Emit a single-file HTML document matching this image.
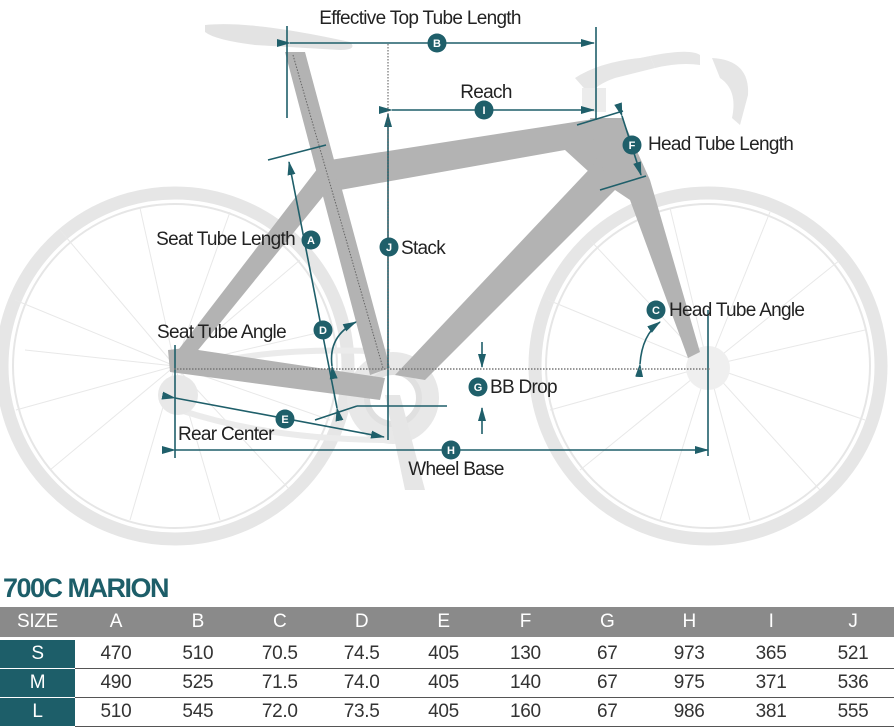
<!DOCTYPE html>
<html><head><meta charset="utf-8"><style>
body{margin:0;background:#fff;width:894px;height:725px;overflow:hidden;font-family:"Liberation Sans",Arial,sans-serif}
svg{position:absolute;left:0;top:0}
.t{font-size:19px;fill:#222;letter-spacing:-0.7px}
.c{fill:#1f5f6a}
.ct{font-size:11px;fill:#fff;font-weight:bold;text-anchor:middle}
.tl{stroke:#1f5f6a;stroke-width:1.6;fill:none}
table{position:absolute;left:0;top:607px;border-collapse:collapse;width:894px;font-size:19px;color:#333;table-layout:fixed}
td{text-align:center;padding:0;height:28px;border-bottom:1.5px solid #555;letter-spacing:-0.3px}
tr.h td{background:#8a8a8a;color:#fff;height:30px;border-bottom:3px solid #fff}
td.s{background:#1d5e69;color:#fff;border-bottom:1.5px solid #fff}
tr.h td.s{background:#8a8a8a}
h1{position:absolute;left:3px;top:573px;margin:0;font-size:27px;color:#1d5e69;letter-spacing:-1.5px;font-weight:bold}
</style></head><body>
<svg width="894" height="600" viewBox="0 0 894 600">
<defs><marker id="a" markerUnits="userSpaceOnUse" markerWidth="14" markerHeight="8" refX="13" refY="4" orient="auto"><path d="M0,0L14,4L0,8z" fill="#1f5f6a"/></marker></defs>
<!-- wheels -->
<g fill="none" stroke="#e6e6e6">
<circle cx="175" cy="366" r="173" stroke-width="13"/>
<circle cx="175" cy="366" r="162" stroke-width="2"/>
<circle cx="708" cy="366" r="173" stroke-width="13"/>
<circle cx="708" cy="366" r="162" stroke-width="2"/>
</g>
<g stroke="#e8e8e8" stroke-width="1">
<path d="M175,366L15,300M175,366L60,230M175,366L140,208M175,366L230,212M175,366L300,260M175,366L330,330M175,366L330,420M175,366L290,490M175,366L220,520M175,366L130,520M175,366L50,470M175,366L16,410M175,366L25,350"/>
<path d="M708,366L548,300M708,366L590,240M708,366L670,208M708,366L770,212M708,366L840,260M708,366L865,330M708,366L865,420M708,366L820,490M708,366L750,520M708,366L660,520M708,366L580,470M708,366L550,410"/>
</g>
<!-- chainring, crank -->
<circle cx="393" cy="398" r="46" fill="#e8e8e8"/>
<circle cx="393" cy="398" r="26" fill="#fff" stroke="#e0e0e0" stroke-width="6"/>
<path d="M385,395L405,490L425,490L400,395z" fill="#e6e6e6"/>
<path d="M180,372Q260,345 390,352" stroke="#ebebeb" stroke-width="6" fill="none"/>
<path d="M180,410Q270,440 390,440" stroke="#ebebeb" stroke-width="6" fill="none"/>
<circle cx="178" cy="395" r="20" fill="#e8e8e8"/>
<circle cx="708" cy="368" r="22" fill="#efefef"/>
<!-- saddle & bars -->
<path d="M205,25Q250,20 350,42Q358,50 340,50L255,45Q215,40 205,32z" fill="#e3e3e3"/>
<path d="M575,78Q600,62 640,58L650,56L655,68L615,78Q595,85 590,95z" fill="#e6e6e6"/>
<path d="M650,56Q690,48 700,55L700,65Q680,62 655,68z" fill="#e6e6e6"/>
<path d="M712,58Q750,60 748,95L740,125L732,118Q738,90 720,78z" fill="#e6e6e6"/>
<rect x="582" y="88" width="24" height="24" fill="#ececec"/>
<!-- frame -->
<g fill="#b3b3b3">
<path d="M285,52L305,52L390,368L370,375z"/>
<path d="M330,160L600,118L640,180L600,182L565,150L340,190z"/>
<path d="M590,118L622,118L650,180L700,352L688,358L630,200L600,180z"/>
<path d="M598,160L615,190L425,380L395,375z"/>
<path d="M318,168L338,178L190,360L172,358z"/>
<path d="M168,350L185,348L385,378L380,400L170,372z"/>
</g>
<!-- annotations -->
<g class="tl">
<line x1="287" y1="26" x2="287" y2="118"/><line x1="596" y1="27" x2="596" y2="120"/>
<line x1="290" y1="43" x2="594" y2="43" marker-start="url(#a)" marker-end="url(#a)"/>
<line x1="392" y1="110" x2="594" y2="110" marker-start="url(#a)" marker-end="url(#a)"/>
<line x1="388" y1="440" x2="388" y2="114" marker-end="url(#a)"/>
<line x1="577" y1="125" x2="623" y2="111"/><line x1="600" y1="190" x2="646" y2="176"/>
<line x1="622" y1="116" x2="641" y2="175" marker-start="url(#a)" marker-end="url(#a)"/>
<line x1="268" y1="160" x2="326" y2="145"/>
<line x1="337" y1="408" x2="289" y2="162" marker-start="url(#a)" marker-end="url(#a)"/>
<path d="M332,366Q328,336 356,322" marker-start="url(#a)" marker-end="url(#a)"/>
<path d="M640,364Q642,335 660,322" marker-start="url(#a)" marker-end="url(#a)"/>
<line x1="175" y1="345" x2="175" y2="458"/><line x1="708" y1="310" x2="708" y2="456"/>
<line x1="175" y1="398" x2="384" y2="437" marker-start="url(#a)" marker-end="url(#a)"/>
<line x1="315" y1="420" x2="357" y2="406"/><line x1="357" y1="406" x2="447" y2="406"/>
<line x1="482" y1="342" x2="482" y2="367" marker-end="url(#a)"/>
<line x1="482" y1="434" x2="482" y2="408" marker-end="url(#a)"/>
<line x1="175" y1="450" x2="708" y2="450" marker-start="url(#a)" marker-end="url(#a)"/>
</g>
<line x1="388" y1="44" x2="388" y2="370" stroke="#555" stroke-width="1" stroke-dasharray="1.5,1.5"/>
<line x1="174" y1="369" x2="710" y2="369" stroke="#777" stroke-width="1.5" stroke-dasharray="1.5,1.5"/>
<line x1="293" y1="55" x2="383" y2="368" stroke="#666" stroke-width="1" stroke-dasharray="1.5,1.5"/>
<g>
<circle class="c" cx="437" cy="43" r="9.5"/><text class="ct" x="437" y="47">B</text>
<circle class="c" cx="484" cy="110" r="9.5"/><text class="ct" x="484" y="114">I</text>
<circle class="c" cx="389" cy="247" r="9.5"/><text class="ct" x="389" y="251">J</text>
<circle class="c" cx="632" cy="145" r="9.5"/><text class="ct" x="632" y="149">F</text>
<circle class="c" cx="311" cy="240" r="9.5"/><text class="ct" x="311" y="244">A</text>
<circle class="c" cx="323" cy="330" r="9.5"/><text class="ct" x="323" y="334">D</text>
<circle class="c" cx="656" cy="310" r="9.5"/><text class="ct" x="656" y="314">C</text>
<circle class="c" cx="478" cy="387" r="9.5"/><text class="ct" x="478" y="391">G</text>
<circle class="c" cx="285" cy="419" r="9.5"/><text class="ct" x="285" y="423">E</text>
<circle class="c" cx="451" cy="450" r="9.5"/><text class="ct" x="451" y="454">H</text>
</g>
<text class="t" x="420" y="24" text-anchor="middle">Effective Top Tube Length</text>
<text class="t" x="486" y="98" text-anchor="middle">Reach</text>
<text class="t" x="401" y="254">Stack</text>
<text class="t" x="648" y="150">Head Tube Length</text>
<text class="t" x="295" y="245" text-anchor="end">Seat Tube Length</text>
<text class="t" x="157" y="338">Seat Tube Angle</text>
<text class="t" x="669" y="316">Head Tube Angle</text>
<text class="t" x="490" y="393">BB Drop</text>
<text class="t" x="178" y="440">Rear Center</text>
<text class="t" x="456" y="475" text-anchor="middle">Wheel Base</text>
</svg>
<h1>700C MARION</h1>
<table>
<colgroup><col style="width:75px"><col span="10" style="width:81.9px"></colgroup>
<tr class="h"><td class="s">SIZE</td><td>A</td><td>B</td><td>C</td><td>D</td><td>E</td><td>F</td><td>G</td><td>H</td><td>I</td><td>J</td></tr>
<tr><td class="s">S</td><td>470</td><td>510</td><td>70.5</td><td>74.5</td><td>405</td><td>130</td><td>67</td><td>973</td><td>365</td><td>521</td></tr>
<tr><td class="s">M</td><td>490</td><td>525</td><td>71.5</td><td>74.0</td><td>405</td><td>140</td><td>67</td><td>975</td><td>371</td><td>536</td></tr>
<tr><td class="s">L</td><td>510</td><td>545</td><td>72.0</td><td>73.5</td><td>405</td><td>160</td><td>67</td><td>986</td><td>381</td><td>555</td></tr>
</table>
</body></html>
